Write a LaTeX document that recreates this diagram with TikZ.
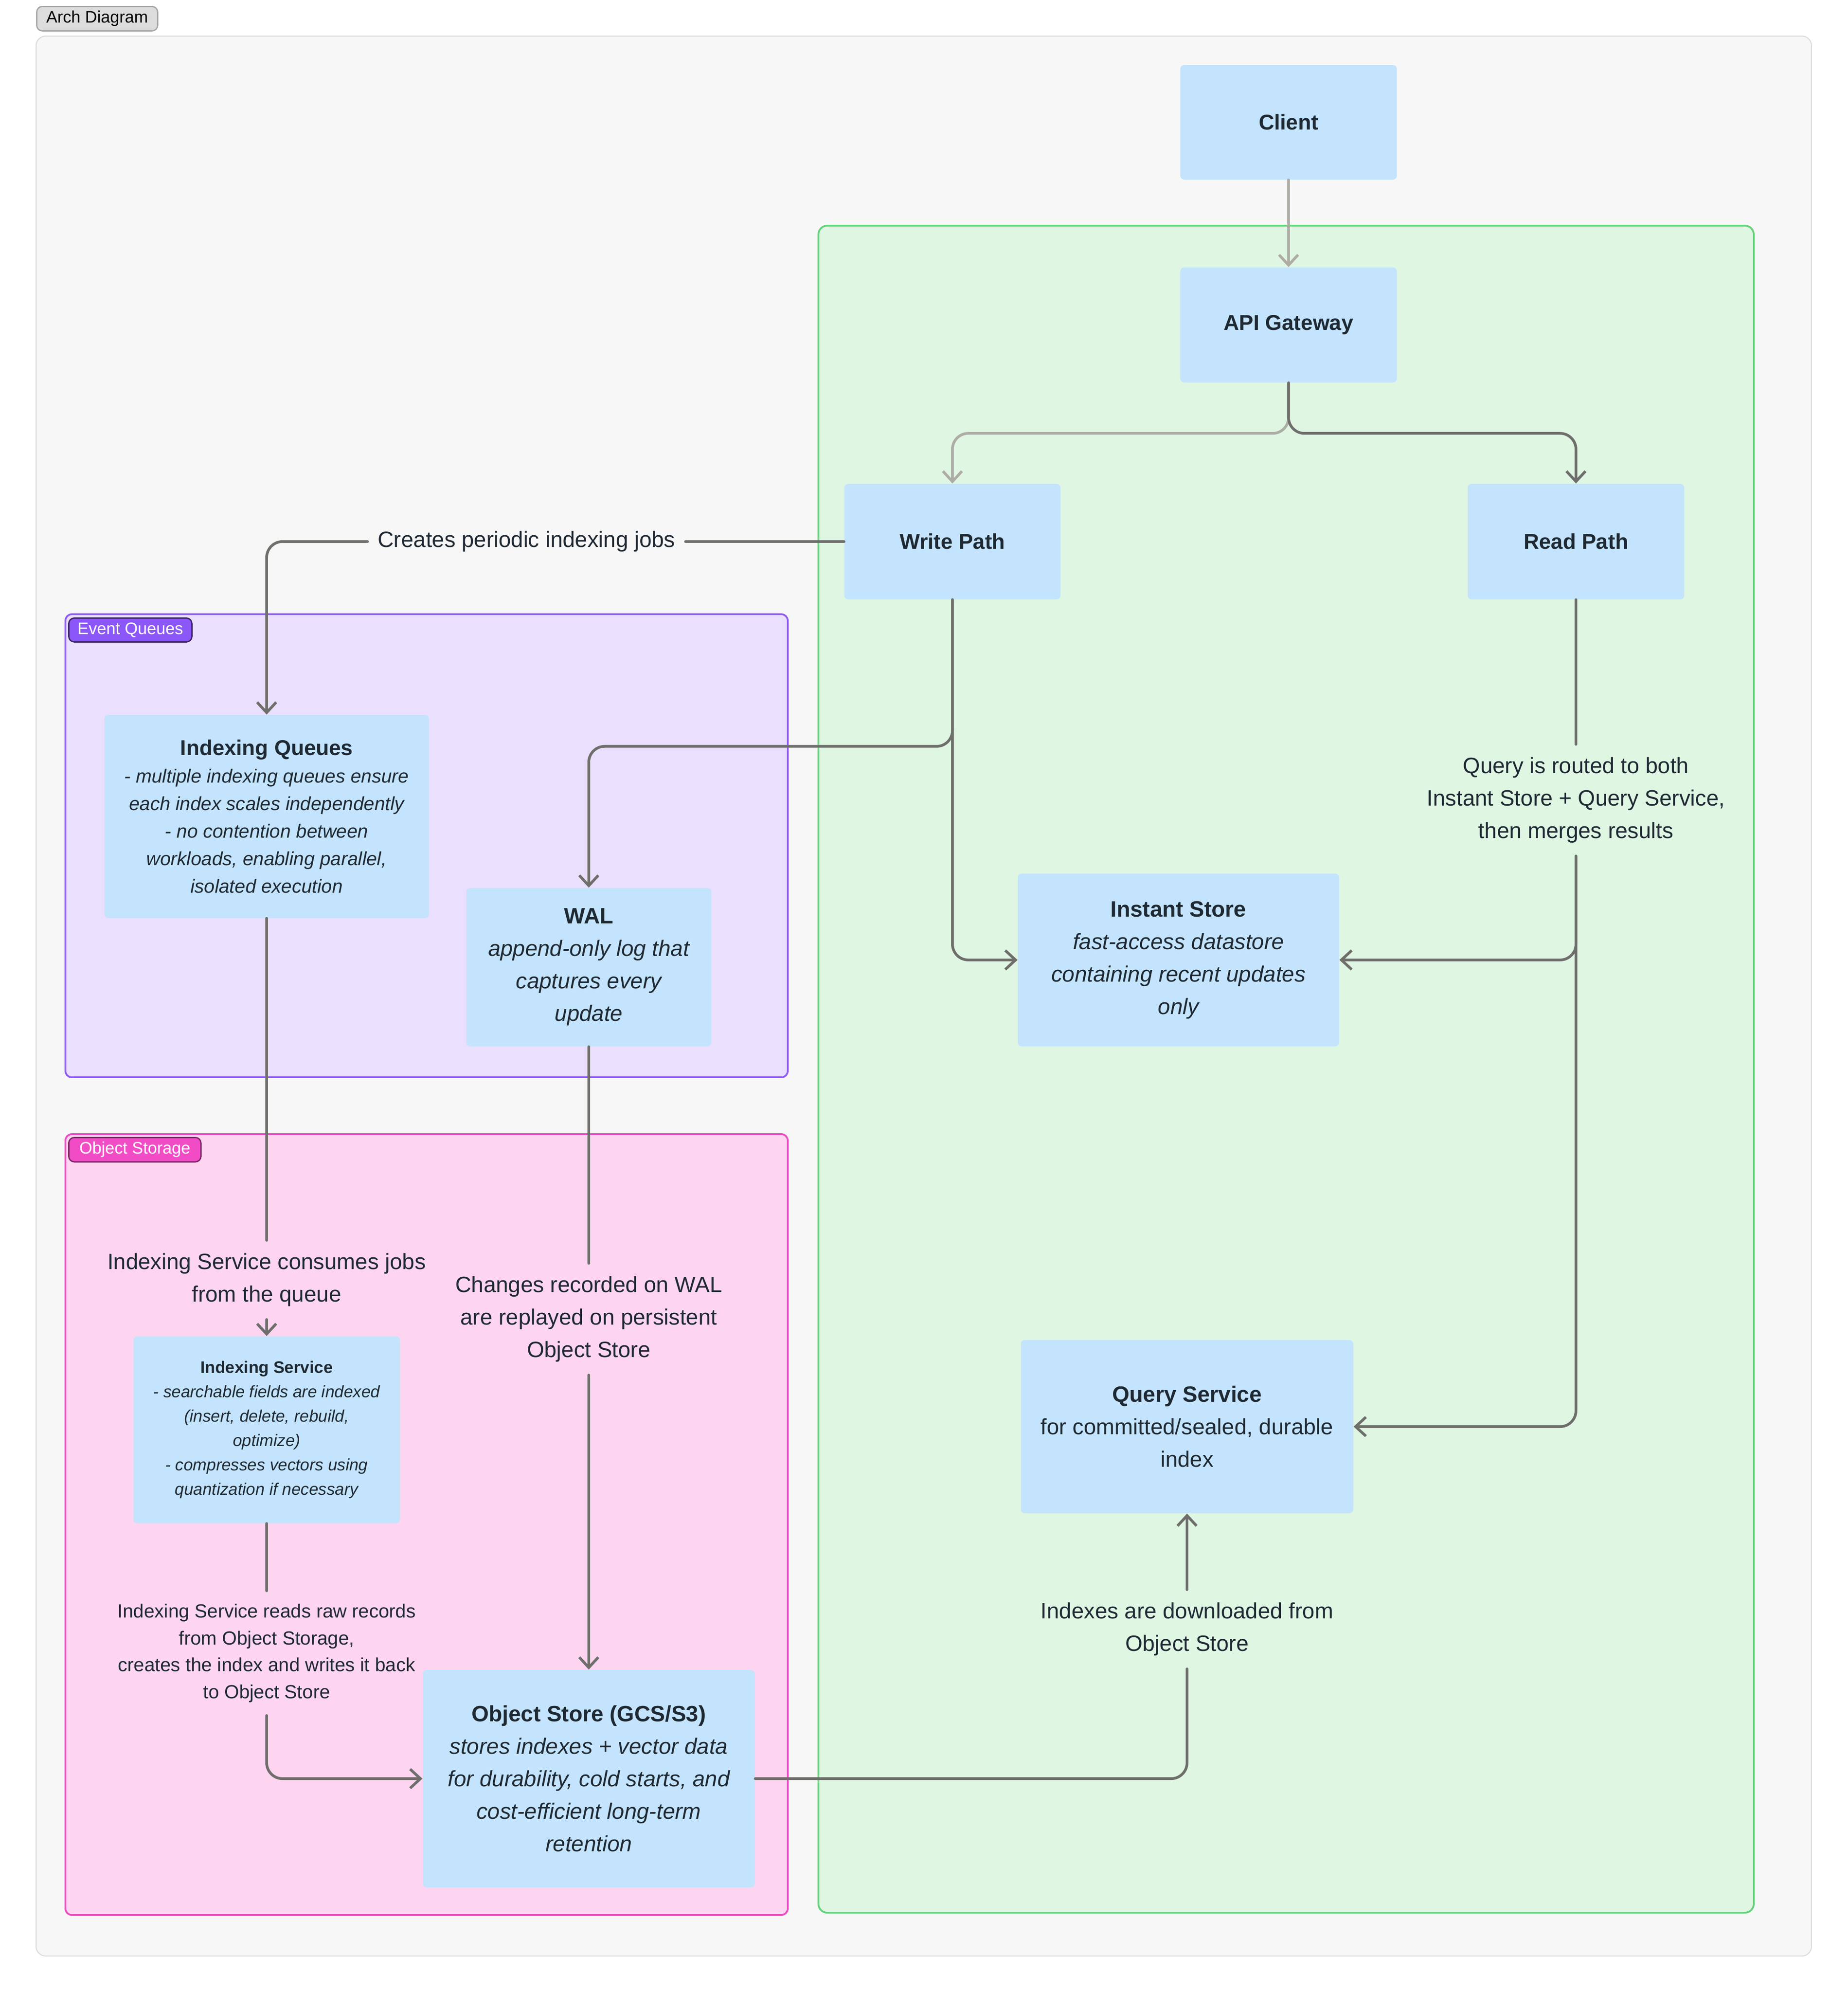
\documentclass[tikz,border=0pt]{standalone}
\usepackage{fontspec}
\setmainfont{Liberation Sans}
\usetikzlibrary{arrows.meta}

\definecolor{panelbg}{HTML}{F7F7F7}
\definecolor{panelline}{HTML}{DADADA}
\definecolor{tabgray}{HTML}{DCDCDC}
\definecolor{mintbg}{HTML}{DFF6E3}
\definecolor{mintline}{HTML}{62D37A}
\definecolor{lilacbg}{HTML}{EADFFD}
\definecolor{lilacline}{HTML}{8F5BF5}
\definecolor{lilactab}{HTML}{8C57F8}
\definecolor{rosebg}{HTML}{FDD5F0}
\definecolor{roseline}{HTML}{EC4DC1}
\definecolor{rosetab}{HTML}{F14CC5}
\definecolor{boxblue}{HTML}{C3E4FC}
\definecolor{ink}{HTML}{1F2933}
\definecolor{wire}{HTML}{6E6E6B}
\definecolor{wirelight}{HTML}{ADADA6}

\tikzset{
  comp/.style={rectangle, rounded corners=2.5pt, fill=boxblue, text=ink, align=center, inner sep=0pt},
  note/.style={align=center, text=ink, font=\fontsize{14}{20.5}\selectfont, inner xsep=6.3pt, inner ysep=8pt},
  tag/.style={rectangle, rounded corners=3.5pt, line width=0.8pt, anchor=north west, inner sep=0pt, font=\fontsize{10.5}{12}\selectfont},
  wireline/.style={draw=wire, line width=1.7pt, rounded corners=10pt, line cap=round},
  wirearrow/.style={wireline, -{Straight Barb[length=6.5pt,width=12pt]}}
}

\begin{document}
\begin{tikzpicture}
    \useasboundingbox (0,0) rectangle (40.96,-44.16);

    % Canvas
    \draw[panelline, fill=panelbg, line width=0.6pt, rounded corners=6pt] (0.80,-0.80) rectangle (40.15,-43.34);
    \node[tag, fill=tabgray, draw=black!35, text=black, minimum width=2.68cm, minimum height=0.54cm] (archtag) at (0.80,-0.13) {Arch Diagram};

    % Regions
    \draw[mintline, fill=mintbg, line width=1.1pt, rounded corners=5.5pt] (18.14,-5.00) rectangle (38.87,-42.38);
    \draw[lilacline, fill=lilacbg, line width=1.1pt, rounded corners=4pt] (1.45,-13.61) rectangle (17.46,-23.87);
    \draw[roseline, fill=rosebg, line width=1.1pt, rounded corners=4pt] (1.45,-25.13) rectangle (17.46,-42.43);
    \node[tag, fill=lilactab, draw=lilactab!40!black, text=white, minimum width=2.73cm, minimum height=0.53cm] (queuetag) at (1.51,-13.68) {Event Queues};
    \node[tag, fill=rosetab, draw=rosetab!50!black, text=white, minimum width=2.93cm, minimum height=0.54cm] (storetag) at (1.51,-25.19) {Object Storage};

    % Components
    \node[comp, font=\fontsize{13.5}{20.5}\selectfont\bfseries, minimum width=4.80cm, minimum height=2.54cm] (client) at (28.56,-2.71) {Client};
    \node[comp, font=\fontsize{13.5}{20.5}\selectfont\bfseries, minimum width=4.80cm, minimum height=2.55cm] (gateway) at (28.56,-7.20) {API Gateway};
    \node[comp, font=\fontsize{13.5}{20.5}\selectfont\bfseries, minimum width=4.79cm, minimum height=2.56cm] (write) at (21.11,-12.00) {Write Path};
    \node[comp, font=\fontsize{13.5}{20.5}\selectfont\bfseries, minimum width=4.80cm, minimum height=2.56cm] (read) at (34.93,-12.00) {Read Path};

    \node[comp, font=\fontsize{12}{17.3}\selectfont\itshape, minimum width=7.19cm, minimum height=4.50cm] (iqueue) at (5.91,-18.09)
        {{\fontsize{13.5}{17.3}\selectfont\upshape\bfseries Indexing Queues}\\- multiple indexing queues ensure\\each index scales independently\\- no contention between\\workloads, enabling parallel,\\isolated execution};
    \node[comp, font=\fontsize{14}{20.5}\selectfont\itshape, minimum width=5.43cm, minimum height=3.51cm] (wal) at (13.05,-21.43)
        {{\upshape\bfseries WAL}\\append-only log that\\captures every\\update};
    \node[comp, font=\fontsize{14}{20.5}\selectfont\itshape, minimum width=7.12cm, minimum height=3.83cm] (instant) at (26.12,-21.27)
        {{\upshape\bfseries Instant Store}\\fast-access datastore\\containing recent updates\\only};
    \node[comp, font=\fontsize{14}{20.5}\selectfont, minimum width=7.37cm, minimum height=3.84cm] (query) at (26.31,-31.61)
        {{\bfseries Query Service}\\for committed/sealed, durable\\index};
    \node[comp, font=\fontsize{10.5}{15.4}\selectfont\itshape, minimum width=5.91cm, minimum height=4.14cm] (iservice) at (5.91,-31.68)
        {{\upshape\bfseries Indexing Service}\\- searchable fields are indexed\\(insert, delete, rebuild,\\optimize)\\- compresses vectors using\\quantization if necessary};
    \node[comp, font=\fontsize{14}{20.5}\selectfont\itshape, minimum width=7.36cm, minimum height=4.82cm] (objstore) at (13.05,-39.41)
        {{\upshape\bfseries Object Store (GCS/S3)}\\stores indexes + vector data\\for durability, cold starts, and\\cost-efficient long-term\\retention};

    % Connector labels
    \node[note] (jobs) at (11.67,-12.00) {Creates periodic indexing jobs};
    \node[note] (routed) at (34.93,-17.73) {Query is routed to both\\Instant Store + Query Service,\\then merges results};
    \node[note] (consume) at (5.91,-28.36) {Indexing Service consumes jobs\\from the queue};
    \node[note] (replay) at (13.05,-29.23) {Changes recorded on WAL\\are replayed on persistent\\Object Store};
    \node[note, font=\fontsize{12}{17}\selectfont] (rebuild) at (5.91,-36.63) {Indexing Service reads raw records\\from Object Storage,\\creates the index and writes it back\\to Object Store};
    \node[note] (download) at (26.31,-36.10) {Indexes are downloaded from\\Object Store};

    % Request flow
    \draw[wirearrow, draw=wirelight] (client) -- (gateway);
    \draw[wirearrow, draw=wirelight] (gateway.south) -- ++(0,-1.12) -| (write.north);
    \draw[wirearrow] (gateway.south) -- ++(0,-1.12) -| (read.north);

    % Write side
    \draw[wireline] (write.west) -- (jobs.east);
    \draw[wirearrow] (jobs.west) -| (iqueue.north);
    \draw[wirearrow] (write.south) -- ++(0,-3.25) -| (wal.north);
    \draw[wirearrow] (write.south) |- (instant.west);

    % Read side
    \draw[wireline] (read.south) -- (routed.north);
    \draw[wirearrow] (routed.south) |- (instant.east);
    \draw[wirearrow] (routed.south) |- (query.east);

    % Indexing
    \draw[wireline] (iqueue.south) -- (consume.north);
    \draw[wirearrow] (consume.south) -- (iservice.north);
    \draw[wireline] (iservice.south) -- (rebuild.north);
    \draw[wirearrow] (rebuild.south) |- (objstore.west);

    % Persistence
    \draw[wireline] (wal.south) -- (replay.north);
    \draw[wirearrow] (replay.south) -- (objstore.north);
    \draw[wireline] (objstore.east) -| (download.south);
    \draw[wirearrow] (download.north) -- (query.south);
\end{tikzpicture}
\end{document}
